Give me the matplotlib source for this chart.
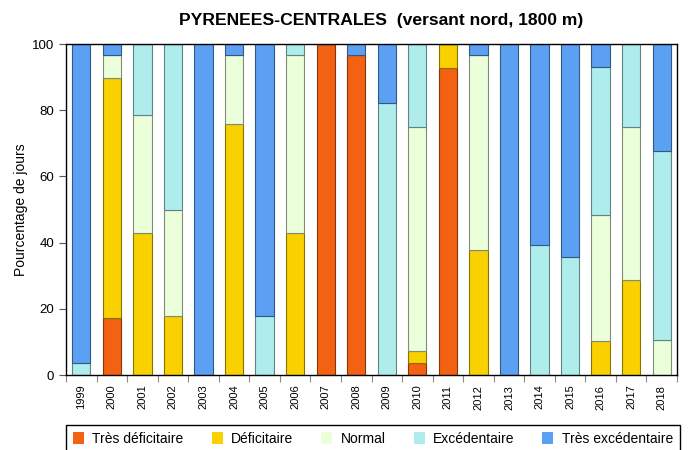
import matplotlib
matplotlib.use("Agg")
import matplotlib.pyplot as plt
import numpy as np
from matplotlib.colors import to_rgb

plt.rcParams['font.family'] = ['Liberation Sans', 'DejaVu Sans']

years = ["1999", "2000", "2001", "2002", "2003", "2004", "2005", "2006", "2007", "2008",
         "2009", "2010", "2011", "2012", "2013", "2014", "2015", "2016", "2017", "2018"]
tres_deficitaire = [0, 17.2, 0, 0, 0, 0, 0, 0, 100, 96.7, 0, 3.5, 92.8, 0, 0, 0, 0, 0, 0, 0]
deficitaire = [0, 72.5, 42.9, 17.8, 0, 75.9, 0, 42.9, 0, 0, 0, 3.6, 7.2, 37.8, 0, 0, 0, 10.2, 28.6, 0]
normal = [0, 6.9, 35.6, 32.2, 0, 20.7, 0, 53.7, 0, 0, 0, 67.9, 0, 58.8, 0, 0, 0, 38.0, 46.4, 10.7]
excedentaire = [3.5, 0, 21.5, 50.0, 0, 0, 17.8, 3.4, 0, 0, 82.2, 25.0, 0, 0, 0, 39.2, 35.5, 44.9, 25.0, 57.1]
tres_excedentaire = [96.5, 3.4, 0, 0, 100, 3.4, 82.2, 0, 0, 3.3, 17.8, 0, 0, 3.4, 100, 60.8, 64.5, 6.9, 0, 32.2]

labels = ["Très déficitaire", "Déficitaire", "Normal", "Excédentaire", "Très excédentaire"]
series = [tres_deficitaire, deficitaire, normal, excedentaire, tres_excedentaire]
colors = ["#F26212", "#F9D100", "#EBFFDB", "#AEEDEC", "#5BA0F2"]

fig = plt.figure(figsize=(6.94, 4.5), dpi=100)
ax = fig.add_axes([66/694, 1-375/450, 611/694, 331/450])

x = np.arange(len(years))
bottom = np.zeros(len(years))
handles = []
for vals, lab, col in zip(series, labels, colors):
    v = np.array(vals, dtype=float)
    edge = tuple(c * 0.55 for c in to_rgb(col))
    b = ax.bar(x, v, 0.6, bottom=bottom, color=col, edgecolor=edge, linewidth=0.8, label=lab)
    bottom += v
    handles.append(b)

ax.set_xlim(-0.5, len(years) - 0.5)
ax.set_ylim(0, 100)
ax.set_yticks([0, 20, 40, 60, 80, 100])
ax.tick_params(axis='y', labelsize=9.5, length=5, width=0.8, color='#555555')
ax.set_xticks(np.arange(-0.5, len(years), 1.0))
ax.set_xticklabels([])
ax.tick_params(axis='x', which='major', length=5, width=0.8, color='#888888')
ax.set_xticks(x, minor=True)
ax.set_xticklabels(years, minor=True, rotation=90, fontsize=8)
ax.tick_params(axis='x', which='minor', length=0, pad=7)
ax.set_ylabel("Pourcentage de jours", fontsize=10, labelpad=3)
for s in ax.spines.values():
    s.set_linewidth(1.0)
    s.set_color('black')

fig.text(381.5/694, 1-20/450, "PYRENEES-CENTRALES  (versant nord, 1800 m)", ha='center', va='center',
         fontsize=12.6, fontweight='bold')

leg = fig.legend(handles=handles, labels=labels, loc='upper left', ncol=5, mode='expand',
                 bbox_to_anchor=(66/694, 1-425/450, 614/694, 0.0), fontsize=10,
                 handlelength=0.8, handleheight=1.0, handletextpad=0.6, borderaxespad=0,
                 fancybox=False, edgecolor='black', framealpha=1, borderpad=0.5)
leg.get_frame().set_linewidth(1.0)
for h in leg.legend_handles:
    h.set_edgecolor('none')

fig.savefig("out.png", dpi=100)
